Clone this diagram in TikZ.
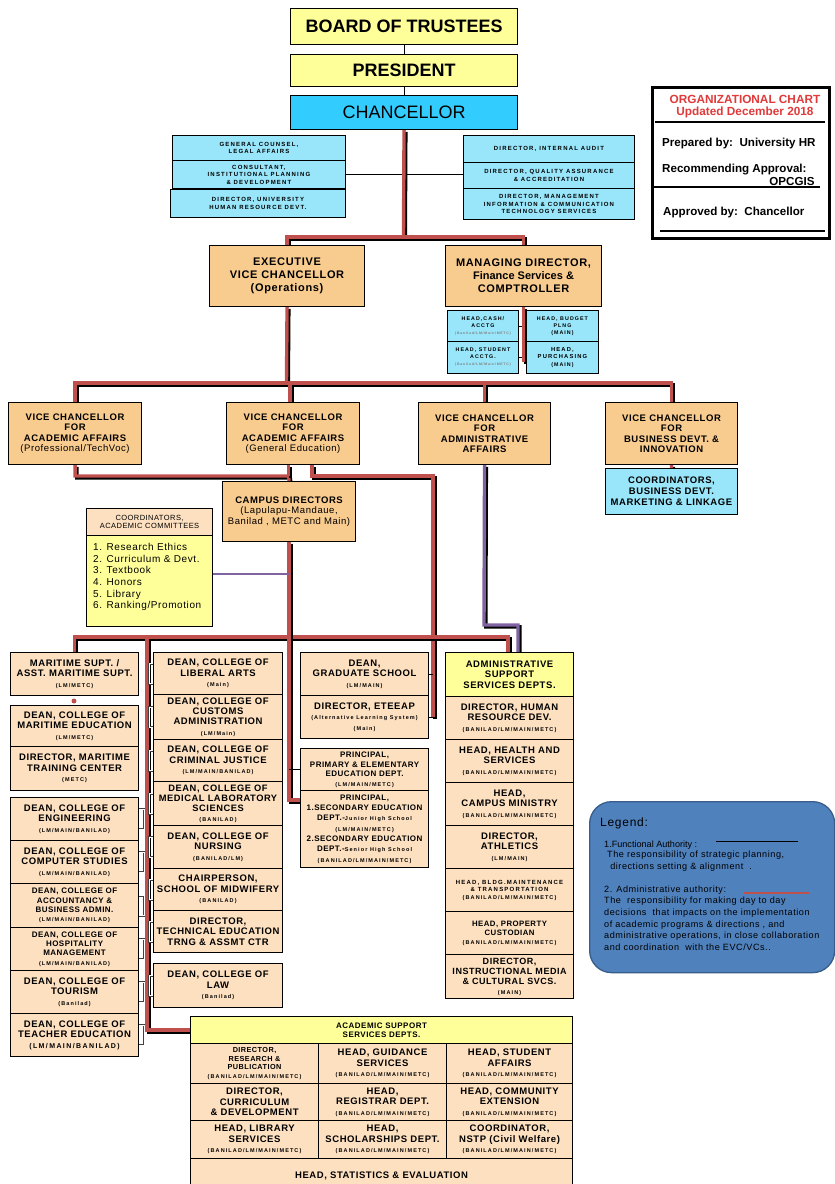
\documentclass[tikz,border=0pt]{standalone}
\usepackage{fontspec}
\setmainfont{Liberation Sans}
\newfontfamily\wide[LetterSpace=6]{Liberation Sans}
\newfontfamily\wider[LetterSpace=20]{Liberation Sans}
\usetikzlibrary{calc}
\definecolor{cyel}{HTML}{FFFF99}
\definecolor{ccyan}{HTML}{33CCFF}
\definecolor{clcyan}{HTML}{99E6FA}
\definecolor{corange}{HTML}{F8CB8F}
\definecolor{cpeach}{HTML}{FDE0C0}
\definecolor{cred}{HTML}{C0504D}
\definecolor{cpur}{HTML}{8064A2}
\definecolor{cblue}{HTML}{4F81BD}
\definecolor{cbluedark}{HTML}{385D8A}
\definecolor{ctitle}{HTML}{E03A3A}
\pgfdeclarelayer{bg}\pgfsetlayers{bg,main}
\newcommand\fz[2]{\fontsize{#1}{#2}\selectfont}
\newcommand\pp[1]{{\wider\fz{5.5}{6.5}#1}}
\newcommand\bx[7]{\node[#6, anchor=north west, minimum width={(#4)-(#2)}, minimum height={(#5)-(#3)}] (#1) at (#2,#3) {#7};}
\tikzset{
 bb/.style={draw=black, line width=1.1pt, align=center, inner sep=0.5pt, font=\wide\bfseries\fz{9.5}{10.5}},
 yb/.style={bb, fill=cyel},
 cb/.style={bb, fill=ccyan},
 lb/.style={bb, fill=clcyan, line width=0.9pt, font=\wider\bfseries\fz{6}{7.5}},
 ob/.style={bb, fill=corange},
 pb/.style={bb, fill=cpeach},
 redc/.style={draw=cred, line width=3.4pt, line join=miter, preaction={draw=black, line width=3.4pt, transform canvas={xshift=1.8pt, yshift=-1.8pt}}},
 purc/.style={draw=cpur, line width=3.4pt, line join=miter, preaction={draw=black, line width=3.4pt, transform canvas={xshift=1.8pt, yshift=-1.8pt}}},
 blk/.style={draw=black, line width=0.9pt},
 brk/.style={draw=white, line width=0.8pt, preaction={draw=black!75, line width=1.9pt}},
 purl/.style={draw=cpur, line width=1.6pt},
 txt/.style={inner sep=0pt, anchor=west, align=left},
 lgt/.style={txt, font=\wide\fz{9.1}{11.6}},
}
\begin{document}
\begin{tikzpicture}[x=1pt,y=-1pt]
\useasboundingbox (0,0) rectangle (835,1184);

% ---------- top ----------
\bx{bot}{290}{8}{517}{44}{yb, font=\bfseries\fz{18}{20}}{BOARD OF TRUSTEES}
\bx{pres}{290}{54}{517}{86}{yb, font=\bfseries\fz{18}{20}}{PRESIDENT}
\bx{chan}{290}{95}{517}{129}{cb, font=\fz{18}{20}}{CHANCELLOR}

\bx{gc}{172}{135}{345}{160}{lb}{GENERAL COUNSEL,\\LEGAL AFFAIRS}
\bx{cons}{172}{160}{345}{188}{lb}{CONSULTANT,\\INSTITUTIONAL PLANNING\\\& DEVELOPMENT}
\bx{uhr}{170}{189}{345}{217}{lb}{DIRECTOR, UNIVERSITY\\HUMAN RESOURCE DEVT.}
\bx{ia}{463}{135}{634}{162}{lb}{DIRECTOR, INTERNAL AUDIT}
\bx{qa}{463}{162}{634}{188}{lb}{DIRECTOR, QUALITY ASSURANCE\\\& ACCREDITATION}
\bx{mis}{463}{188}{634}{219}{lb}{DIRECTOR, MANAGEMENT\\INFORMATION \& COMMUNICATION\\TECHNOLOGY SERVICES}

% ---------- org chart info box ----------
\node[draw=black, line width=3pt, fill=white, anchor=north west, minimum width=177, minimum height=151] (orgbox) at (651,86) {};
\node[inner sep=0pt, text=ctitle, font=\bfseries\fz{11.8}{13}, align=center] (ot1) at (745,99) {ORGANIZATIONAL CHART};
\node[inner sep=0pt, text=ctitle, font=\bfseries\fz{11.8}{13}, align=center] (ot2) at (745,112) {Updated December 2018};
\node[txt, font=\bfseries\fz{11.6}{13}] (ot3) at (662,143) {Prepared by:\ \ University HR};
\node[txt, font=\bfseries\fz{11.6}{13}] (ot4) at (662,170) {Recommending Approval:};
\node[inner sep=0pt, font=\bfseries\fz{11.6}{13}] (ot5) at (792,182) {OPCGIS};
\node[txt, font=\bfseries\fz{11.6}{13}] (ot6) at (663,212) {Approved by:\ \ Chancellor};
\coordinate (ol1a) at (655,122); \coordinate (ol1b) at (825,122);
\coordinate (ol2a) at (652,187); \coordinate (ol2b) at (820,187);
\coordinate (ol3a) at (660,231); \coordinate (ol3b) at (825,231);
\draw[blk, line width=1.2pt] (ol1a) -- (ol1b);
\draw[blk, line width=1.2pt] (ol2a) -- (ol2b);
\draw[blk, line width=1.2pt] (ol3a) -- (ol3b);

% ---------- EVC / MD ----------
\bx{evc}{209}{245}{364}{306}{ob, font=\wide\bfseries\fz{11}{13}}{EXECUTIVE\\VICE CHANCELLOR\\(Operations)}
\bx{md}{445}{245}{601}{306}{ob, font=\wide\bfseries\fz{11}{13}}{MANAGING DIRECTOR,\\{\normalfont\bfseries\fz{11}{13}Finance Services \&}\\COMPTROLLER}

\bx{hcash}{447}{310}{518}{341}{lb, font=\wider\bfseries\fz{5.3}{7}}{HEAD,CASH/\\ACCTG\\{\color{gray}\fz{3.5}{5}(Banilad/LM/Main/METC)}}
\bx{hstud}{447}{341}{518}{373}{lb, font=\wider\bfseries\fz{5.3}{7}}{HEAD, STUDENT\\ACCTG.\\{\color{gray}\fz{3.5}{5}(Banilad/LM/Main/METC)}}
\bx{hbud}{526}{310}{598}{341}{lb, font=\wider\bfseries\fz{5.3}{7}}{HEAD, BUDGET\\PLNG\\(MAIN)}
\bx{hpur}{526}{341}{598}{373}{lb, font=\wider\bfseries\fz{5.8}{7.5}}{HEAD,\\PURCHASING\\{\fz{5.3}{7}(MAIN)}}

% ---------- VC row ----------
\bx{vc1}{8}{402}{141}{464}{ob}{VICE CHANCELLOR\\FOR\\ACADEMIC AFFAIRS\\{\mdseries (Professional/TechVoc)}}
\bx{vc2}{226}{402}{359}{464}{ob}{VICE CHANCELLOR\\FOR\\ACADEMIC AFFAIRS\\{\mdseries (General Education)}}
\bx{vc3}{418}{402}{550}{464}{ob}{VICE CHANCELLOR\\FOR\\ADMINISTRATIVE\\AFFAIRS}
\bx{vc4}{605}{402}{737}{464}{ob}{VICE CHANCELLOR\\FOR\\BUSINESS DEVT. \&\\INNOVATION}
\bx{cbd}{605}{468}{737}{514}{lb, font=\wide\bfseries\fz{9.5}{11}}{COORDINATORS,\\BUSINESS DEVT.\\MARKETING \& LINKAGE}

\bx{campus}{222}{481}{355}{541}{ob}{CAMPUS DIRECTORS\\{\mdseries (Lapulapu-Mandaue,}\\{\mdseries Banilad , METC and Main)}}

\bx{cach}{86}{508}{212}{535}{pb, font=\wide\fz{7.5}{8.5}}{COORDINATORS,\\ACADEMIC COMMITTEES}
\bx{cacb}{86}{535}{212}{626}{yb}{}
\node[txt, anchor=north west, font=\wide\fz{10}{11.7}] (clist) at (93,543) {1. Research Ethics\\2. Curriculum \& Devt.\\3. Textbook\\4. Honors\\5. Library\\6. Ranking/Promotion};

% ---------- left column ----------
\bx{mar}{10}{652}{138}{695}{pb}{MARITIME SUPT. /\\ASST. MARITIME SUPT.\\\pp{(LM/METC)}}
\node[circle, fill=cred, inner sep=0pt, minimum size=5pt] (rdot) at (74,701) {};
\bx{dme}{10}{705}{138}{746}{pb}{DEAN, COLLEGE OF\\MARITIME EDUCATION\\\pp{(LM/METC)}}
\bx{dmt}{10}{746}{138}{790}{pb}{DIRECTOR, MARITIME\\TRAINING CENTER\\\pp{(METC)}}
\bx{deng}{10}{797}{138}{840}{pb}{DEAN, COLLEGE OF\\ENGINEERING\\\pp{(LM/MAIN/BANILAD)}}
\bx{dcs}{10}{840}{138}{883}{pb}{DEAN, COLLEGE OF\\COMPUTER STUDIES\\\pp{(LM/MAIN/BANILAD)}}
\bx{dacc}{10}{883}{138}{927}{pb, font=\wide\bfseries\fz{8}{9.3}}{DEAN, COLLEGE OF\\ACCOUNTANCY \&\\BUSINESS ADMIN.\\\pp{(LM/MAIN/BANILAD)}}
\bx{dhm}{10}{927}{138}{970}{pb, font=\wide\bfseries\fz{8}{9.3}}{DEAN, COLLEGE OF\\HOSPITALITY\\MANAGEMENT\\\pp{(LM/MAIN/BANILAD)}}
\bx{dtour}{10}{970}{138}{1013}{pb}{DEAN, COLLEGE OF\\TOURISM\\\pp{(Banilad)}}
\bx{dted}{10}{1013}{138}{1056}{pb}{DEAN, COLLEGE OF\\TEACHER EDUCATION\\{\wider\fz{7}{8}(LM/MAIN/BANILAD)}}

% ---------- middle column ----------
\bx{dla}{153}{652}{282}{694}{pb}{DEAN, COLLEGE OF\\LIBERAL ARTS\\\pp{(Main)}}
\bx{dca}{153}{694}{282}{739}{pb, font=\wide\bfseries\fz{9.5}{10.2}}{DEAN, COLLEGE OF\\CUSTOMS\\ADMINISTRATION\\\pp{(LM/Main)}}
\bx{dcj}{153}{739}{282}{781}{pb}{DEAN, COLLEGE OF\\CRIMINAL JUSTICE\\\pp{(LM/MAIN/BANILAD)}}
\bx{dml}{153}{781}{282}{825}{pb, font=\wide\bfseries\fz{9.3}{10}}{DEAN, COLLEGE OF\\MEDICAL LABORATORY\\SCIENCES\\\pp{(BANILAD)}}
\bx{dn}{153}{825}{282}{868}{pb}{DEAN, COLLEGE OF\\NURSING\\\pp{(BANILAD/LM)}}
\bx{cmw}{153}{868}{282}{910}{pb}{CHAIRPERSON,\\SCHOOL OF MIDWIFERY\\\pp{(BANILAD)}}
\bx{dtech}{153}{910}{282}{952}{pb}{DIRECTOR,\\TECHNICAL EDUCATION\\TRNG \& ASSMT CTR}
\bx{dlaw}{153}{963}{282}{1007}{pb}{DEAN, COLLEGE OF\\LAW\\\pp{(Banilad)}}

% ---------- graduate column ----------
\bx{dgs}{300}{652}{428}{695}{pb}{DEAN,\\GRADUATE SCHOOL\\\pp{(LM/MAIN)}}
\bx{dete}{300}{695}{428}{738}{pb}{DIRECTOR, ETEEAP\\\pp{(Alternative Learning System)}\\\pp{(Main)}}
\bx{pprim}{300}{748}{428}{790}{pb, font=\wide\bfseries\fz{8}{9.5}}{PRINCIPAL,\\PRIMARY \& ELEMENTARY\\EDUCATION DEPT.\\\pp{(LM/MAIN/METC)}}
\bx{psec}{300}{790}{428}{867}{pb, font=\wide\bfseries\fz{8}{10.3}}{PRINCIPAL,\\1.SECONDARY EDUCATION\\DEPT.-{\wider\fz{5.5}{6}Junior High School}\\\pp{(LM/MAIN/METC)}\\2.SECONDARY EDUCATION\\DEPT.-{\wider\fz{5.5}{6}Senior High School}\\\pp{(BANILAD/LM/MAIN/METC)}}

% ---------- administrative support ----------
\bx{adm}{445}{652}{573}{696}{yb}{ADMINISTRATIVE\\SUPPORT\\SERVICES DEPTS.}
\bx{ahr}{445}{696}{573}{739}{pb}{DIRECTOR, HUMAN\\RESOURCE DEV.\\\pp{(BANILAD/LM/MAIN/METC)}}
\bx{ahs}{445}{739}{573}{782}{pb}{HEAD, HEALTH AND\\SERVICES\\\pp{(BANILAD/LM/MAIN/METC)}}
\bx{acm}{445}{782}{573}{825}{pb}{HEAD,\\CAMPUS MINISTRY\\\pp{(BANILAD/LM/MAIN/METC)}}
\bx{aat}{445}{825}{573}{868}{pb}{DIRECTOR,\\ATHLETICS\\\pp{(LM/MAIN)}}
\bx{abm}{445}{868}{573}{911}{pb, font=\wider\bfseries\fz{6}{7.5}}{HEAD, BLDG.MAINTENANCE\\\& TRANSPORTATION\\\pp{(BANILAD/LM/MAIN/METC)}}
\bx{apc}{445}{911}{573}{954}{pb, font=\wide\bfseries\fz{7.8}{9}}{HEAD, PROPERTY\\CUSTODIAN\\\pp{(BANILAD/LM/MAIN/METC)}}
\bx{aim}{445}{954}{573}{998}{pb, font=\wide\bfseries\fz{9}{10}}{DIRECTOR,\\INSTRUCTIONAL MEDIA\\\& CULTURAL SVCS.\\\pp{(MAIN)}}

% ---------- academic support ----------
\bx{ash}{190}{1016}{572}{1043}{yb, font=\wide\bfseries\fz{8}{9.5}}{ACADEMIC SUPPORT\\SERVICES DEPTS.}
\bx{r1a}{190}{1043}{318}{1083}{pb, font=\wide\bfseries\fz{7.3}{8.6}}{DIRECTOR,\\RESEARCH \&\\PUBLICATION\\\pp{(BANILAD/LM/MAIN/METC)}}
\bx{r1b}{318}{1043}{446}{1083}{pb}{HEAD, GUIDANCE\\SERVICES\\\pp{(BANILAD/LM/MAIN/METC)}}
\bx{r1c}{446}{1043}{572}{1083}{pb}{HEAD, STUDENT\\AFFAIRS\\\pp{(BANILAD/LM/MAIN/METC)}}
\bx{r2a}{190}{1083}{318}{1120}{pb}{DIRECTOR,\\CURRICULUM\\\& DEVELOPMENT}
\bx{r2b}{318}{1083}{446}{1120}{pb}{HEAD,\\REGISTRAR DEPT.\\\pp{(BANILAD/LM/MAIN/METC)}}
\bx{r2c}{446}{1083}{572}{1120}{pb}{HEAD, COMMUNITY\\EXTENSION\\\pp{(BANILAD/LM/MAIN/METC)}}
\bx{r3a}{190}{1120}{318}{1158}{pb}{HEAD, LIBRARY\\SERVICES\\\pp{(BANILAD/LM/MAIN/METC)}}
\bx{r3b}{318}{1120}{446}{1158}{pb}{HEAD,\\SCHOLARSHIPS DEPT.\\\pp{(BANILAD/LM/MAIN/METC)}}
\bx{r3c}{446}{1120}{572}{1158}{pb}{COORDINATOR,\\NSTP (Civil Welfare)\\\pp{(BANILAD/LM/MAIN/METC)}}
\bx{r4}{190}{1158}{572}{1192}{pb}{HEAD, STATISTICS \& EVALUATION}

% ---------- legend ----------
\node[draw=cbluedark, fill=cblue, rounded corners=22pt, line width=1.3pt, anchor=north west, minimum width=245, minimum height=171] (legend) at (589,801) {};
\node[txt, font=\wide\fz{12}{13}] (lg0) at (600,823) {Legend:};
\node[lgt, font=\fz{9.1}{11.6}] (lg1) at (604,845) {1.Functional Authority :};
\node[lgt, anchor=north west] (lg2) at (607,851) {The responsibility of strategic planning,\\\ directions setting \& alignment\ \ .};
\node[lgt] (lg3) at (604,890) {2. Administrative authority:};
\node[lgt, anchor=north west] (lg4) at (604,897) {The\ \ responsibility for making day to day\\decisions\ \ that impacts on the implementation\\of academic programs \& directions , and\\administrative operations, in close collaboration\\and coordination\ \ with the EVC/VCs..};
\coordinate (la1) at (716,841); \coordinate (la2) at (798,841);
\coordinate (lb1) at (744,893); \coordinate (lb2) at (809,893);
\draw[blk] (la1) -- (la2);
\draw[draw=cred, line width=1.8pt] (lb1) -- (lb2);

% ---------- connectors ----------
\begin{pgfonlayer}{bg}
\draw[blk] (bot.south) -- (pres.north);
\draw[blk] (pres.south) -- (chan.north);
\draw[blk, line width=1.3pt] (cons.east) -- (cons.east -| qa.west);
\coordinate (j1) at (403.5,237);
\draw[redc] (chan.south) -- (j1);
\draw[redc] (evc.north) |- (j1) -| (md.north);
\coordinate (j2) at (286.5,383);
\coordinate (j2b) at (290,383);
\draw[redc] (evc.south) -- (j2);
\draw[redc] (vc1.north) |- (j2) -| (vc4.north);
\draw[redc] (j2b) -- (j2b |- vc2.north);
\draw[redc] (vc3.north) -- (vc3.north |- j2);
\coordinate (fin) at (522,362);
\draw[blk] (hcash.east) -- (hbud.west);
\draw[blk] (hstud.east) -- (hpur.west);
\draw[redc] (md.south) -- (md.south |- fin);
\draw[redc] (vc4.south) -- (cbd.north);
\coordinate (j3) at (288.5,476);
\draw[redc] (vc1.south) |- (j3) -- (campus.north);
\draw[redc] (vc2.south -| j3) -- (j3);
\coordinate (j4) at (312,476);
\coordinate (j5) at (433,476);
\draw[redc] (vc2.south -| j4) -- (j4) -- (j5) -- (j5 |- dete.east);
\draw[blk] (dgs.east) -- (dgs.east -| j5);
\draw[blk] (dete.east) -- (dete.east -| j5);
\coordinate (b2) at (508,637);
\coordinate (v1) at (147,637);
\draw[redc] (mar.north) |- (b2) -- (b2 |- adm.north);
\draw[redc] (v1) |- (ash.west);
\coordinate (p1) at (484,625);
\coordinate (p2) at (518,625);
\draw[purc] (vc3.south) -- (p1) -- (p2) -- (p2 |- adm.north);
\coordinate (c1) at (300,800);
\draw[redc] (campus.south) |- (c1);
\draw[blk] (pprim.west) -- (pprim.west -| campus.south);
\coordinate (q1) at (0,574);
\draw[purl] (cacb.east |- q1) -- (q1 -| campus.south);
\end{pgfonlayer}
\foreach \n in {dla,dca,dcj,dml,dn,cmw,dtech,dlaw} {\draw[brk] ([yshift=10pt]\n.west) -- ++(-4,0) -- ++(0,20) -- ++(4,0);}
\foreach \n in {deng,dcs,dacc,dhm,dtour,dted} {\draw[brk] ([yshift=10pt]\n.east) -- ++(5,0) -- ++(0,20) -- ++(-5,0);}
\end{tikzpicture}
\end{document}
